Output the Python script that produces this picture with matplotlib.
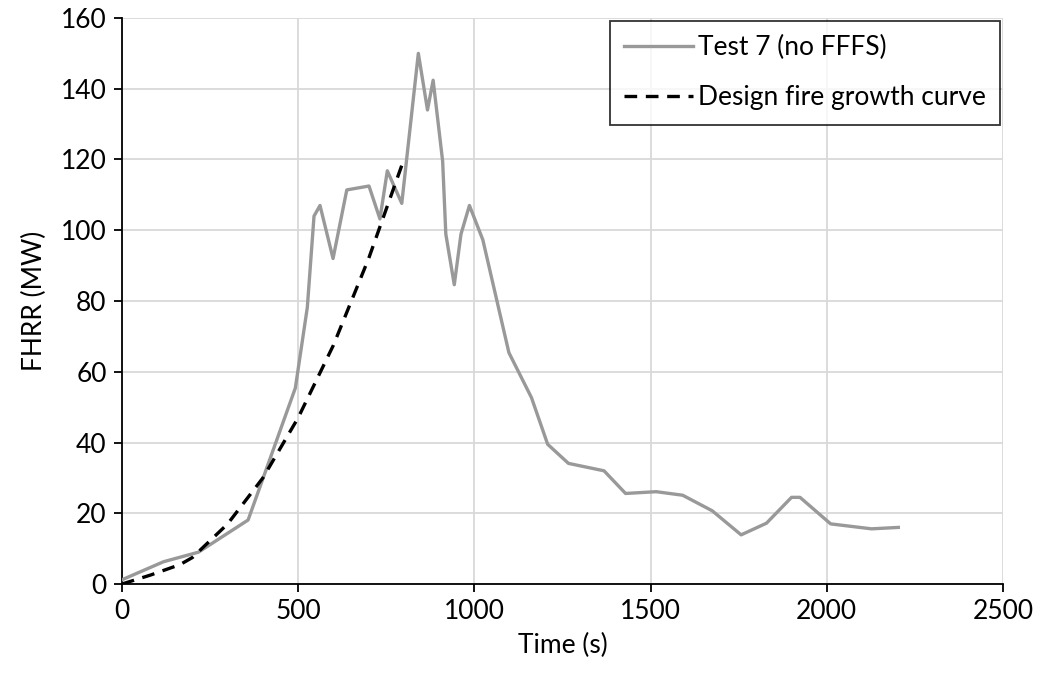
import matplotlib.pyplot as plt

plt.rcParams['font.family'] = ['Lato', 'DejaVu Sans']

# Test 7 (no FFFS) measured heat release rate
test_time = [0, 118, 217, 358, 492, 526, 545, 562, 599, 638, 701, 732, 753, 794,
             841, 867, 883, 910, 919, 943, 962, 986, 1024, 1098, 1162, 1208, 1267,
             1368, 1429, 1516, 1591, 1675, 1757, 1829, 1900, 1924, 2011, 2127, 2203]
test_hrr = [1.2, 6.3, 9.0, 18.1, 55.4, 78.2, 104, 107, 92, 111.4, 112.5, 103.2, 116.8,
            107.6, 150, 134, 142.4, 119.5, 98.9, 84.6, 98.9, 107, 97.3, 65.4, 52.7,
            39.5, 34.1, 32, 25.6, 26.1, 25.1, 20.7, 13.9, 17.2, 24.5, 24.5, 17, 15.6, 16]

# design fire growth curve
design_time = [0, 80, 165, 200, 300, 400, 500, 600, 700, 800]
design_hrr = [0, 2.5, 5.5, 7.5, 17, 30, 47, 67.5, 92, 120]

fs = 19

fig, ax = plt.subplots(figsize=(10.37, 6.81), dpi=100)
fig.subplots_adjust(left=0.1176, right=0.9672, top=0.9736, bottom=0.1424)

ax.plot(test_time, test_hrr, color='#999999', lw=2.4, label='Test 7 (no FFFS)', zorder=3)
ax.plot(design_time, design_hrr, color='black', lw=2.4, ls=(0, (3.8, 2.6)),
        label='Design fire growth curve', zorder=4)

ax.set_xlim(0, 2500)
ax.set_ylim(0, 160)
ax.set_xticks(range(0, 2501, 500))
ax.set_yticks(range(0, 161, 20))
ax.grid(True, color='#d9d9d9', lw=1.3)
ax.set_axisbelow(True)

for side in ['top', 'right']:
    ax.spines[side].set_visible(False)
for side in ['left', 'bottom']:
    ax.spines[side].set_linewidth(1.3)
ax.tick_params(direction='out', length=6, width=1.3, labelsize=fs, pad=5)

ax.set_xlabel('Time (s)', fontsize=fs, labelpad=6)
ax.set_ylabel('FHRR (MW)', fontsize=fs, labelpad=10)

leg = ax.legend(loc='upper right', fontsize=fs, frameon=True, fancybox=False,
                handlelength=2.6, borderaxespad=0.1, borderpad=0.55, labelspacing=0.95,
                handletextpad=0.2)
leg.get_frame().set_edgecolor('black')
leg.get_frame().set_linewidth(1.3)

fig.savefig('out.png')
